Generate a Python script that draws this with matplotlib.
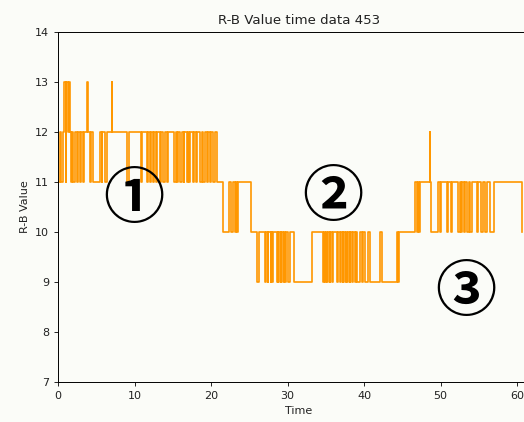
import numpy as np
import matplotlib.pyplot as plt

# change points of the R-B value: time (s) where a new value starts
change_t = [0.0, 0.3, 0.45, 0.6, 0.75, 1.0, 1.1, 1.3, 1.4, 1.6, 1.7, 1.8, 2.0, 2.2, 2.45, 2.6,
            2.9, 3.0, 3.3, 3.4, 3.85, 3.95, 4.2, 4.3, 4.6, 5.5, 5.7, 5.8, 6.1, 6.4, 7.0, 7.1, 9.0, 9.3,
            10.9, 11.0, 11.6, 11.8, 12.0, 12.1, 12.4, 12.6, 12.8, 12.9, 13.3, 13.5, 13.7, 14.0,
            14.3, 14.4, 15.2, 15.4, 15.5, 15.7, 16.0, 16.2, 16.4, 16.5, 16.8, 17.0, 17.1, 17.3,
            17.6, 17.8, 18.0, 18.2, 18.6, 18.8, 19.0, 19.2, 19.5, 19.6, 19.8, 20.0, 20.3, 20.5,
            20.8, 21.5, 22.4, 22.6, 22.9, 23.1, 23.3, 23.4, 23.5, 25.2,
            26.0, 26.3, 27.1, 27.2, 27.4, 27.5, 27.8, 27.9, 28.0, 28.1, 28.6, 28.7, 28.8, 28.9,
            29.1, 29.2, 29.4, 29.5, 29.7, 29.8, 30.1, 30.3, 30.8, 33.2, 34.6, 34.7, 34.9, 35.0,
            35.2, 35.3, 35.5, 35.6, 35.8, 36.0, 36.5, 36.6, 36.8, 37.0, 37.2, 37.3, 37.5, 37.6,
            37.8, 37.9, 38.1, 38.2, 38.4, 38.6, 38.8, 39.0, 39.1, 39.5, 39.7, 39.9, 40.1, 40.5,
            40.8, 42.1, 42.4, 44.3, 44.4, 44.6,
            46.7, 46.9, 47.0, 47.2, 47.3, 48.55, 48.65, 48.8, 49.7, 49.9, 50.0, 50.8, 51.0, 51.3,
            51.5, 52.3, 52.5, 52.7, 52.8, 53.0, 53.2, 53.5, 53.7, 53.9, 54.1, 54.8, 54.9, 55.3,
            55.5, 55.8, 56.0, 56.4, 57.0, 60.6]
change_v = [11, 12, 11, 12, 13, 11, 13, 12, 13, 12, 11, 12, 11, 12, 11, 12,
            11, 12, 11, 12, 13, 12, 11, 12, 11, 12, 11, 12, 11, 12, 13, 12, 11, 12,
            11, 12, 11, 12, 11, 12, 11, 12, 11, 12, 11, 12, 11, 12,
            11, 12, 11, 12, 11, 12, 11, 12, 11, 12, 11, 12, 11, 12,
            11, 12, 11, 12, 11, 12, 11, 12, 11, 12, 11, 12, 11, 12,
            11, 10, 11, 10, 11, 10, 11, 10, 11, 10,
            9, 10, 9, 10, 9, 10, 9, 10, 9, 10, 9, 10, 9, 10,
            9, 10, 9, 10, 9, 10, 9, 10, 9, 10, 9, 10, 9, 10,
            9, 10, 9, 10, 9, 10, 9, 10, 9, 10, 9, 10, 9, 10,
            9, 10, 9, 10, 9, 10, 9, 10, 9, 10, 9, 10, 9, 10,
            9, 10, 9, 10, 9, 10,
            11, 10, 11, 10, 11, 12, 11, 10, 11, 10, 11, 10, 11, 10,
            11, 10, 11, 10, 11, 10, 11, 10, 11, 10, 11, 10, 11, 10,
            11, 10, 11, 10, 11, 10]

marks = ["①", "②", "③"]
mark_t = [9.9, 35.9, 53.3]
mark_v = [10.63, 10.68, 8.78]

fig = plt.figure(figsize=(5.24, 4.22), dpi=100, facecolor="#fbfcf8")
ax = fig.add_axes([0.1107, 0.0948, 0.92, 0.829])
ax.set_facecolor("#fbfcf8")

ax.plot(change_t, change_v, drawstyle="steps-post", color="#ff9700", linewidth=1.2)

for m, t, v in zip(marks, mark_t, mark_v):
    ax.text(t, v, m, fontsize=44, fontweight="bold", ha="center", va="center",
            family=["Noto Sans CJK JP", "DejaVu Sans"])

ax.set_xlim(0, 63)
ax.set_ylim(7, 14)
ax.set_xticks([0, 10, 20, 30, 40, 50, 60])
ax.set_yticks([7, 8, 9, 10, 11, 12, 13, 14])
ax.tick_params(labelsize=8, length=2.8, width=0.7, colors="#222222")
for s in ax.spines.values():
    s.set_linewidth(0.7)

ax.set_title("R-B Value time data 453", fontsize=9.6, color="#222222")
ax.set_xlabel("Time", fontsize=8, color="#222222")
ax.set_ylabel("R-B Value", fontsize=8, color="#222222")

fig.savefig("out.png", dpi=100, facecolor=fig.get_facecolor())
